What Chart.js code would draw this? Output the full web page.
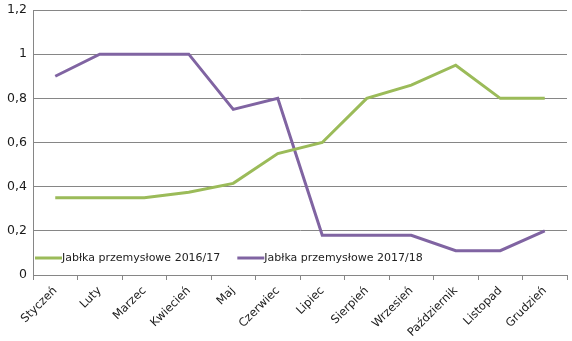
<!DOCTYPE html>
<html>
<head>
<meta charset="utf-8">
<script src="https://cdn.jsdelivr.net/npm/chart.js@4/dist/chart.umd.min.js"></script>
<style>
    html, body { margin: 0; padding: 0; background: #fff; }
    #wrap { width: 572px; height: 341px; position: relative; }
</style>
</head>
<body>
<div id="wrap"><canvas id="chart"></canvas></div>
<script>
// Months (x axis)
const months = ['Styczeń', 'Luty', 'Marzec', 'Kwiecień', 'Maj', 'Czerwiec', 'Lipiec',
    'Sierpień', 'Wrzesień', 'Październik', 'Listopad', 'Grudzień'];

// Series values
const prices2016 = [0.35, 0.35, 0.35, 0.375, 0.415, 0.55, 0.6, 0.8, 0.86, 0.95, 0.8, 0.8];
const prices2017 = [0.9, 1, 1, 1, 0.75, 0.8, 0.18, 0.18, 0.18, 0.11, 0.11, 0.2];

const seriesLabels = ['Jabłka przemysłowe 2016/17', 'Jabłka przemysłowe 2017/18'];
const yTicks = [0, 0.2, 0.4, 0.6, 0.8, 1, 1.2];

const FONT = 'DejaVu Sans, Verdana, sans-serif';

// Legend drawn inside the plot area, like the Excel original
const insideLegend = {
    id: 'insideLegend',
    afterDatasetsDraw(chart) {
        const ctx = chart.ctx;
        const area = chart.chartArea;
        const y = area.bottom - 17;
        let x = area.left + 2;
        ctx.save();
        ctx.font = '11px ' + FONT;
        ctx.textBaseline = 'middle';
        chart.data.datasets.forEach(ds => {
            ctx.strokeStyle = ds.borderColor;
            ctx.lineWidth = 3;
            ctx.beginPath();
            ctx.moveTo(x, y);
            ctx.lineTo(x + 27, y);
            ctx.stroke();
            ctx.fillStyle = '#222';
            ctx.fillText(ds.label, x + 27, y);
            x += 27 + ctx.measureText(ds.label).width + 17;
        });
        ctx.restore();
    }
};

const ctx = document.getElementById('chart').getContext('2d');
new Chart(ctx, {
    type: 'line',
    data: {
        labels: months,
        datasets: [{
            label: seriesLabels[0],
            data: prices2016,
            borderColor: '#9bbb59',
            borderWidth: 3,
            pointRadius: 0,
            tension: 0
        }, {
            label: seriesLabels[1],
            data: prices2017,
            borderColor: '#8064a2',
            borderWidth: 3,
            pointRadius: 0,
            tension: 0
        }]
    },
    options: {
        responsive: true,
        maintainAspectRatio: false,
        animation: false,
        layout: {
            autoPadding: false,
            padding: { top: 10, right: 5, left: 0, bottom: 0 }
        },
        plugins: {
            legend: { display: false },
            tooltip: { enabled: false }
        },
        scales: {
            x: {
                offset: true,
                grid: {
                    offset: true,
                    drawOnChartArea: false,
                    drawTicks: true,
                    tickLength: 5,
                    color: '#868686'
                },
                border: { color: '#868686' },
                ticks: {
                    minRotation: 45,
                    maxRotation: 45,
                    autoSkip: false,
                    padding: 4,
                    color: '#1a1a1a',
                    font: { family: FONT, size: 11.5 }
                },
                afterFit(scale) { scale.height = 66; }
            },
            y: {
                min: 0,
                max: 1.2,
                afterBuildTicks(scale) {
                    scale.ticks = yTicks.map(v => ({ value: v }));
                },
                grid: {
                    color: '#868686',
                    drawTicks: false
                },
                border: { color: '#868686' },
                ticks: {
                    padding: 6,
                    color: '#1a1a1a',
                    font: { family: FONT, size: 12.5 },
                    callback: v => String(Math.round(v * 10) / 10).replace('.', ',')
                },
                afterFit(scale) {
                    scale.width = 33;
                    scale.paddingTop = 0;
                    scale.paddingBottom = 0;
                }
            }
        }
    },
    plugins: [insideLegend]
});
</script>
</body>
</html>
